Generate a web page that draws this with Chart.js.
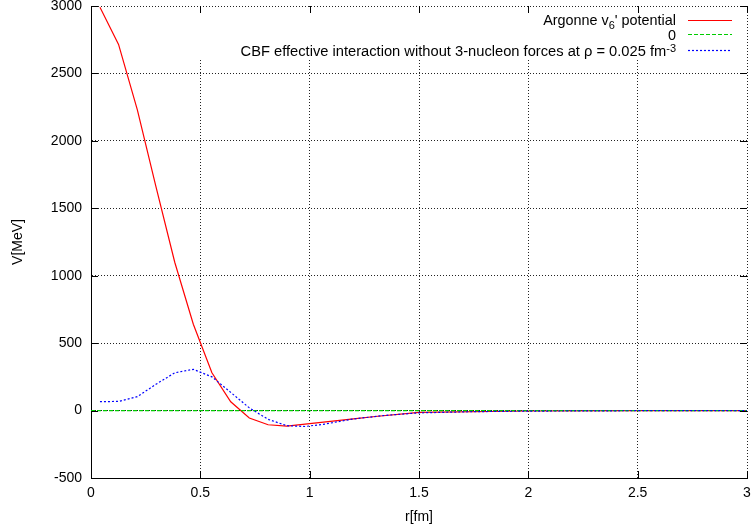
<!DOCTYPE html>
<html lang="en">
<head>
<meta charset="UTF-8">
<title>Argonne v6' potential vs CBF effective interaction</title>
<style>
  html, body { margin: 0; padding: 0; background: #fff; }
  #chart-container { width: 754px; height: 531px; }
</style>
</head>
<body>
<div id="chart-container"><canvas id="potentialChart" width="754" height="531"></canvas></div>
<script src="https://cdn.jsdelivr.net/npm/chart.js"></script>
<script>
// r [fm] and V [MeV]
const argonneR = [0.041, 0.126, 0.212, 0.297, 0.383, 0.468, 0.553, 0.639, 0.724, 0.810, 0.895, 1.0, 1.2, 1.3, 1.5, 2.0, 2.5, 3.0];
const argonneV = [2990, 2715, 2230, 1660, 1100, 640, 280, 65, -55, -105, -115, -97, -62, -44, -14, -3, -1, 0];

const zeroR = [0, 3];
const zeroV = [0, 0];

const cbfR = [0.041, 0.126, 0.212, 0.297, 0.383, 0.468, 0.553, 0.639, 0.724, 0.810, 0.895, 0.98, 1.07, 1.2, 1.35, 1.5, 1.75, 2.0, 2.5, 3.0];
const cbfV = [66, 68, 103, 195, 280, 306, 250, 135, 20, -65, -112, -118, -100, -62, -35, -17, -8, -4, -1, 0];

const xTicks = [0, 0.5, 1, 1.5, 2, 2.5, 3];
const yTicks = [-500, 0, 500, 1000, 1500, 2000, 2500, 3000];

const toPoints = (xs, ys) => xs.map((x, i) => ({ x: x, y: ys[i] }));

Chart.defaults.font.family = "'Liberation Sans', Arial, Helvetica, sans-serif";
Chart.defaults.font.size = 14;
Chart.defaults.color = '#000';

// gnuplot style key: text right aligned, line sample on the right
function drawRich(ctx, parts, rightX, baseline) {
    let total = 0;
    parts.forEach(p => {
        ctx.font = p.size + "px 'Liberation Sans', Arial, sans-serif";
        p.w = ctx.measureText(p.t).width;
        total += p.w;
    });
    let x = rightX - total;
    parts.forEach(p => {
        ctx.font = p.size + "px 'Liberation Sans', Arial, sans-serif";
        ctx.fillText(p.t, x, baseline + (p.dy || 0));
        x += p.w;
    });
}

const keyEntries = [
    { parts: [{ t: 'Argonne v', size: 14.4 }, { t: '6', size: 11, dy: 4.5 }, { t: "' potential", size: 14.4 }],
      color: '#ff0000', dash: [], base: 24.5, lineY: 20.5 },
    { parts: [{ t: '0', size: 14.4 }],
      color: '#00cc00', dash: [4, 2], base: 39.5, lineY: 34.5 },
    { parts: [{ t: 'CBF effective interaction without 3-nucleon forces at \u03c1 = 0.025 fm', size: 14.7 }, { t: '-3', size: 11, dy: -4 }],
      color: '#0000ff', dash: [2, 2], base: 56, lineY: 50.5 }
];

const gnuplotKey = {
    id: 'gnuplotKey',
    beforeDatasetsDraw(chart) {
        const ctx = chart.ctx;
        ctx.save();
        ctx.fillStyle = '#fff';
        ctx.fillRect(196, 8, 548, 50);
        ctx.restore();
    },
    afterDraw(chart) {
        const ctx = chart.ctx;
        const area = chart.chartArea;
        const sx = chart.scales.x, sy = chart.scales.y;
        ctx.save();
        // inward tick marks on all four sides
        ctx.strokeStyle = '#000';
        ctx.lineWidth = 1;
        ctx.beginPath();
        xTicks.forEach(v => {
            const px = Math.round(sx.getPixelForValue(v)) + 0.5;
            ctx.moveTo(px, area.bottom); ctx.lineTo(px, area.bottom - 7);
            ctx.moveTo(px, area.top); ctx.lineTo(px, area.top + 7);
        });
        yTicks.forEach(v => {
            const py = Math.round(sy.getPixelForValue(v)) + 0.5;
            ctx.moveTo(area.left, py); ctx.lineTo(area.left + 7, py);
            ctx.moveTo(area.right, py); ctx.lineTo(area.right - 7, py);
        });
        ctx.stroke();

        ctx.fillStyle = '#000';
        ctx.textBaseline = 'alphabetic';
        ctx.textAlign = 'left';
        keyEntries.forEach(e => {
            drawRich(ctx, e.parts, 676, e.base);
            ctx.strokeStyle = e.color;
            ctx.lineWidth = 1.2;
            ctx.setLineDash(e.dash);
            ctx.beginPath();
            ctx.moveTo(688, e.lineY);
            ctx.lineTo(732, e.lineY);
            ctx.stroke();
        });
        ctx.restore();
    }
};

const ctx = document.getElementById('potentialChart').getContext('2d');
const chart = new Chart(ctx, {
    type: 'line',
    data: {
        datasets: [{
            label: "Argonne v6' potential",
            data: toPoints(argonneR, argonneV),
            borderColor: '#ff0000',
            borderWidth: 1.2,
            pointRadius: 0,
            tension: 0,
            fill: false,
            order: 3
        }, {
            label: '0',
            data: toPoints(zeroR, zeroV),
            borderColor: '#00cc00',
            borderWidth: 1.2,
            borderDash: [4, 2],
            pointRadius: 0,
            fill: false,
            order: 2
        }, {
            label: 'CBF effective interaction without 3-nucleon forces at \u03c1 = 0.025 fm-3',
            data: toPoints(cbfR, cbfV),
            borderColor: '#0000ff',
            borderWidth: 1.2,
            borderDash: [2, 2],
            pointRadius: 0,
            tension: 0,
            fill: false,
            order: 1
        }]
    },
    options: {
        responsive: false,
        animation: false,
        layout: { padding: { top: 6, right: 7, left: 0, bottom: 0 } },
        plugins: {
            legend: { display: false },
            tooltip: { enabled: false }
        },
        scales: {
            x: {
                type: 'linear',
                position: 'bottom',
                min: 0,
                max: 3,
                afterBuildTicks: s => { s.ticks = xTicks.map(v => ({ value: v })); },
                ticks: { padding: 7, maxRotation: 0, callback: v => String(v) },
                grid: { color: '#222', lineWidth: 1, drawTicks: false },
                border: { color: '#000', width: 1, dash: [1, 2] },
                title: { display: true, text: 'r[fm]', padding: { top: 0, bottom: 5 } },
                afterFit: s => { s.height = 53; s.paddingLeft = 0; s.paddingRight = 0; }
            },
            y: {
                min: -500,
                max: 3000,
                afterBuildTicks: s => { s.ticks = yTicks.map(v => ({ value: v })); },
                ticks: { padding: 9, callback: v => String(v) },
                grid: { color: '#222', lineWidth: 1, drawTicks: false },
                border: { color: '#000', width: 1, dash: [1, 2] },
                title: { display: true, text: 'V[MeV]', padding: { top: 10, bottom: 0 } },
                afterFit: s => { s.width = 91; s.paddingTop = 0; s.paddingBottom = 0; }
            }
        }
    },
    plugins: [gnuplotKey]
});
</script>
</body>
</html>
